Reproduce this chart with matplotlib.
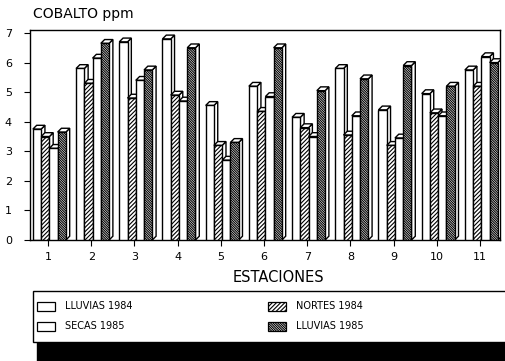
import matplotlib
matplotlib.use("Agg")
import matplotlib.pyplot as plt
from matplotlib.patches import Polygon, Rectangle

# Cobalt concentration (ppm) per sampling station and season
stations = ["1", "2", "3", "4", "5", "6", "7", "8", "9", "10", "11"]
series_names = ["LLUVIAS 1984", "NORTES 1984", "SECAS 1985", "LLUVIAS 1985"]
lluvias84 = [3.75, 5.8, 6.7, 6.8, 4.55, 5.2, 4.15, 5.8, 4.4, 4.95, 5.75]
nortes84 = [3.5, 5.3, 4.8, 4.9, 3.2, 4.35, 3.8, 3.55, 3.2, 4.3, 5.2]
secas85 = [3.1, 6.15, 5.4, 4.7, 2.7, 4.85, 3.5, 4.2, 3.45, 4.2, 6.2]
lluvias85 = [3.65, 6.65, 5.75, 6.5, 3.3, 6.5, 5.05, 5.45, 5.9, 5.2, 6.0]
y_ticks = [0, 1, 2, 3, 4, 5, 6, 7]

series = [lluvias84, nortes84, secas85, lluvias85]
hatches = ["", "////////", "", "\\" * 14]

plt.rcParams["hatch.linewidth"] = 0.8
plt.rcParams["font.family"] = ["DejaVu Sans"]

W, H = 505, 361
fig = plt.figure(figsize=(W / 100, H / 100), dpi=100)

# axes placement in pixels
px_left, px_right, px_top, px_bottom = 30, 500, 30, 240
ax = fig.add_axes([px_left / W, 1 - px_bottom / H,
                   (px_right - px_left) / W, (px_bottom - px_top) / H])

pitch_px = 43.2
unit_px = (px_bottom - 33) / 7.0
x0 = 1 - (48 - px_left) / pitch_px
x1 = 1 + (px_right - 48) / pitch_px
ax.set_xlim(x0, x1)
ax.set_ylim(0, (px_bottom - px_top) / unit_px)

bar_w = 0.191
dx = 3.8 / pitch_px
dy = 3.8 / unit_px
lw = 1.0

z = 2
for gi in range(len(stations)):
    for si, vals in enumerate(series):
        v = vals[gi]
        xl = (gi + 1) - 0.35 + si * bar_w
        xr = xl + bar_w
        side = Polygon([(xr, 0), (xr + dx, dy), (xr + dx, v + dy), (xr, v)],
                       closed=True, facecolor="white", edgecolor="black",
                       linewidth=lw, zorder=z)
        top = Polygon([(xl, v), (xr, v), (xr + dx, v + dy), (xl + dx, v + dy)],
                      closed=True, facecolor="white", edgecolor="black",
                      linewidth=lw, zorder=z)
        front = Rectangle((xl, 0), bar_w, v, facecolor="white",
                          edgecolor="black", linewidth=lw,
                          hatch=hatches[si], zorder=z)
        ax.add_patch(side)
        ax.add_patch(top)
        ax.add_patch(front)
        z += 1

for s in ax.spines.values():
    s.set_linewidth(1.0)
ax.set_xticks(range(1, len(stations) + 1))
ax.set_xticklabels(stations)
ax.set_yticks(y_ticks)
ax.tick_params(axis="both", direction="out", length=4, width=0.8,
               labelsize=8)
ax.tick_params(axis="y", pad=9)
ax.tick_params(axis="x", pad=5)

# overlay in pixel coordinates for title, axis label and legend
ov = fig.add_axes([0, 0, 1, 1], facecolor="none")
ov.set_xlim(0, W)
ov.set_ylim(H, 0)
ov.axis("off")

ov.text(33, 14, "COBALTO ppm", fontsize=10, va="center", ha="left")
ov.text(278, 277, "ESTACIONES", fontsize=10.5, va="center", ha="center")

# legend frame with drop shadow
ov.add_patch(Rectangle((37, 342), W - 37, H - 342, facecolor="black",
                       edgecolor="black"))
ov.add_patch(Rectangle((33, 291), W - 33 + 2, 51, facecolor="white",
                       edgecolor="black", linewidth=1.0))

legend_pos = [(37, 306), (268, 306), (37, 326), (268, 326)]
order = [0, 1, 2, 3]
for (lx, ly), si in zip(legend_pos, order):
    ov.add_patch(Rectangle((lx, ly - 4.5), 18, 9, facecolor="white",
                           edgecolor="black", linewidth=0.9,
                           hatch=hatches[si]))
    ov.text(lx + 28, ly, series_names[si], fontsize=7, va="center",
            ha="left")

fig.savefig("out.png", dpi=100)
